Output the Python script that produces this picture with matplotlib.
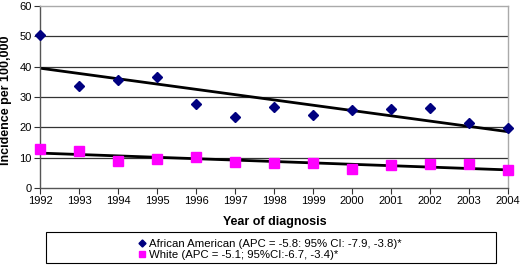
import numpy as np
import matplotlib
matplotlib.use("Agg")
import matplotlib.pyplot as plt
from matplotlib.patches import Rectangle

plt.rcParams['font.family'] = ['Liberation Sans', 'DejaVu Sans']

years = [1992, 1993, 1994, 1995, 1996, 1997, 1998, 1999, 2000, 2001, 2002, 2003, 2004]
african_american = [50.4, 33.7, 35.6, 36.7, 27.8, 23.4, 26.6, 24.0, 25.7, 26.0, 26.3, 21.5, 19.8]
white = [12.9, 12.3, 8.9, 9.6, 10.1, 8.5, 8.1, 8.1, 6.2, 7.5, 7.8, 7.8, 5.8]

aa_label = "African American (APC = -5.8: 95% CI: -7.9, -3.8)*"
white_label = "White (APC = -5.1; 95%CI:-6.7, -3.4)*"

fig = plt.figure(figsize=(5.2, 2.65), dpi=100)
ax = fig.add_axes([40 / 520, 1 - 188 / 265, 468 / 520, 182 / 265])

x = np.array(years)
# linear trend lines (like the Excel trendline)
for vals in [african_american, white]:
    k, b = np.polyfit(x, vals, 1)
    ax.plot(x, k * x + b, color='black', linewidth=2, zorder=2, solid_capstyle='butt')

h1, = ax.plot(years, african_american, linestyle='none', marker='D', markersize=5.5,
              color='#000080', zorder=3, clip_on=False)
h2, = ax.plot(years, white, linestyle='none', marker='s', markersize=6.5,
              color='#ff00ff', zorder=3, clip_on=False)

ax.set_xlim(1992, 2004)
ax.set_ylim(0, 60)
ax.set_xticks(years)
ax.set_yticks(range(0, 61, 10))
ax.tick_params(labelsize=8, length=4, width=0.8, colors='#333333', pad=2)
ax.tick_params(labelcolor='black')
for yv in range(10, 60, 10):
    ax.axhline(yv, color='#333333', linewidth=0.9, zorder=1)

ax.spines['left'].set_color('#555555')
ax.spines['bottom'].set_color('#555555')
ax.spines['top'].set_color('#aaaaaa')
ax.spines['right'].set_color('#aaaaaa')
for s in ax.spines.values():
    s.set_linewidth(1)

fig.text(6 / 520, 1 - 100 / 265, 'Incidence per 100,000', rotation=90, ha='center', va='center',
         fontsize=9, fontweight='bold')
fig.text(275 / 520, 1 - 222 / 265, 'Year of diagnosis', ha='center', va='center',
         fontsize=9, fontweight='bold')

# legend box
fig.patches.append(Rectangle((46 / 520, 1 - 263 / 265), 450 / 520, 31 / 265,
                             transform=fig.transFigure, fill=False, edgecolor='black',
                             linewidth=0.8))
fig.legend([h1, h2], [aa_label, white_label], loc='upper left',
           bbox_to_anchor=(130 / 520, 1 - 231 / 265), frameon=False, fontsize=8.2,
           handlelength=0.7, handletextpad=0.25, labelspacing=0.1, borderpad=0.2,
           markerscale=0.65)

fig.savefig('out.png', dpi=100)
